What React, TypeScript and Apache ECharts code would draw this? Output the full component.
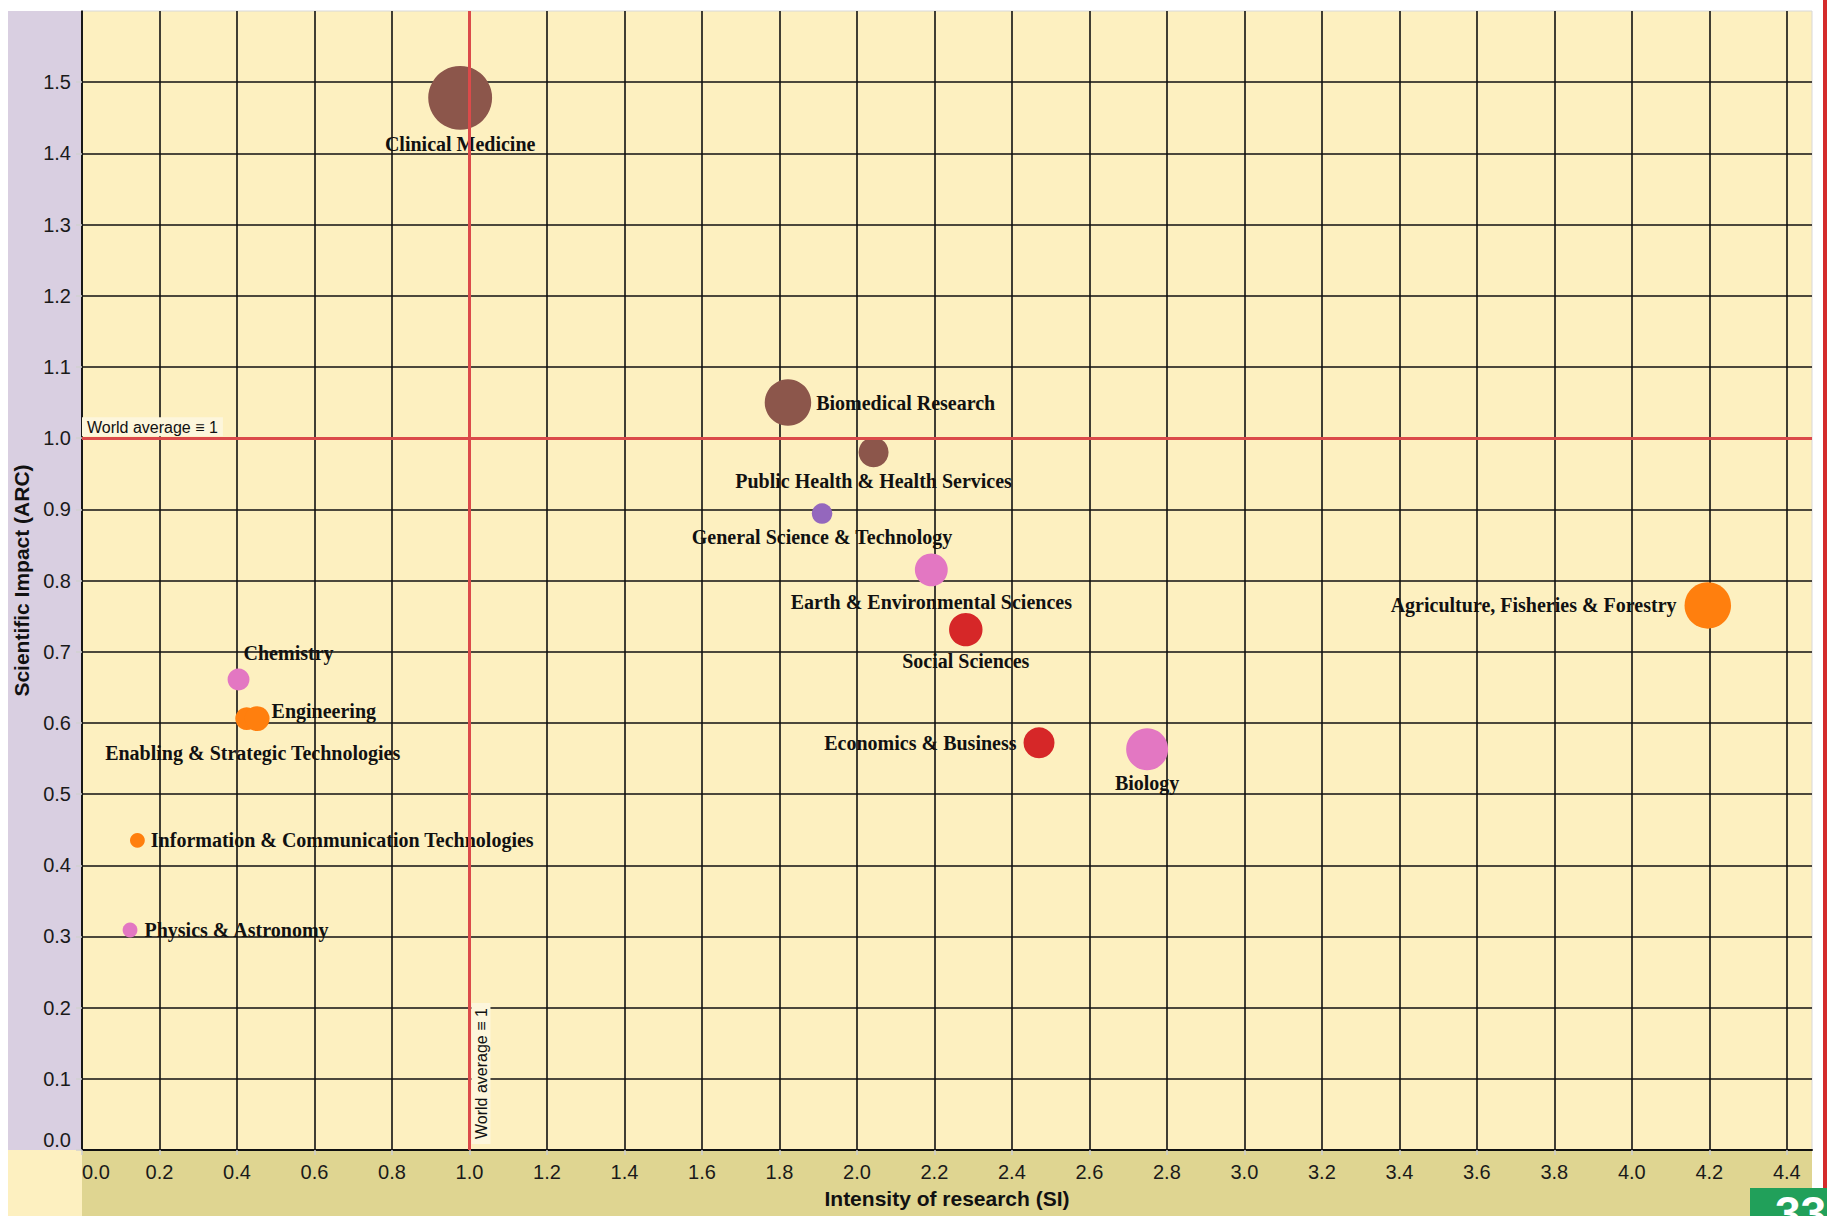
import React, { useEffect, useRef } from "react";
import * as echarts from "echarts";

// ---------- data ----------
const categories = [
  "Clinical Medicine",
  "Biomedical Research",
  "Public Health & Health Services",
  "General Science & Technology",
  "Earth & Environmental Sciences",
  "Social Sciences",
  "Economics & Business",
  "Biology",
  "Agriculture, Fisheries & Forestry",
  "Chemistry",
  "Enabling & Strategic Technologies",
  "Engineering",
  "Information & Communication Technologies",
  "Physics & Astronomy",
];
// Intensity of research (SI)
const intensity = [0.976, 1.822, 2.043, 1.91, 2.192, 2.281, 2.47, 2.749, 4.196, 0.404, 0.425, 0.452, 0.143, 0.124];
// Scientific impact (ARC)
const impact = [1.478, 1.05, 0.98, 0.894, 0.815, 0.731, 0.572, 0.563, 0.765, 0.661, 0.606, 0.606, 0.435, 0.309];
// relative output (bubble area)
const output = [1020, 540, 225, 105, 270, 280, 240, 440, 540, 120, 130, 155, 55, 55];
// field group of each category
const groups = [
  "Health Sciences",
  "Health Sciences",
  "Health Sciences",
  "General",
  "Natural Sciences",
  "Economic & Social Sciences",
  "Economic & Social Sciences",
  "Natural Sciences",
  "Applied Sciences",
  "Natural Sciences",
  "Applied Sciences",
  "Applied Sciences",
  "Applied Sciences",
  "Natural Sciences",
];
const worldAverage = 1;
const xTickStep = 0.2;
const yTickStep = 0.1;
const pageNumber = "33";

// ---------- styles ----------
const groupColors: Record<string, string> = {
  "Health Sciences": "#8c564b",
  General: "#9467bd",
  "Natural Sciences": "#e377c2",
  "Economic & Social Sciences": "#d62728",
  "Applied Sciences": "#ff7f0e",
};

const labelPlacement: Record<string, any> = {
  "Clinical Medicine": { position: "bottom", distance: 4 },
  "Biomedical Research": { position: "right", distance: 5 },
  "Public Health & Health Services": { position: "bottom", distance: 4 },
  "General Science & Technology": { position: "bottom", distance: 3 },
  "Earth & Environmental Sciences": { position: "bottom", distance: 6 },
  "Social Sciences": { position: "bottom", distance: 5 },
  "Economics & Business": { position: "left", distance: 7 },
  Biology: { position: "bottom", distance: 3 },
  "Agriculture, Fisheries & Forestry": { position: "left", distance: 8 },
  Chemistry: { position: "top", distance: 5, offset: [50, 0] },
  "Enabling & Strategic Technologies": { position: "bottom", distance: 13, offset: [6, 0] },
  Engineering: { position: "right", distance: 2, offset: [0, -8] },
  "Information & Communication Technologies": { position: "right", distance: 6 },
  "Physics & Astronomy": { position: "right", distance: 7 },
};

const W = 1827;
const H = 1216;
const G = { left: 82, right: 15, top: 11, bottom: 66 };

export default function App() {
  const ref = useRef<HTMLDivElement>(null);

  useEffect(() => {
    if (!ref.current) return;
    const chart = echarts.init(ref.current, null, { renderer: "svg" });

    const data = categories.map((name, i) => {
      const pl = labelPlacement[name] || { position: "right" };
      return {
        name,
        value: [intensity[i], impact[i], output[i]],
        itemStyle: { color: groupColors[groups[i]], opacity: 1 },
        label: {
          show: true,
          formatter: "{b}",
          position: pl.position,
          distance: pl.distance,
          offset: pl.offset || [0, 0],
        },
      };
    });

    const axisFont = "'Liberation Sans', Arial, sans-serif";
    const serif = "'Liberation Serif', 'Times New Roman', serif";

    chart.setOption({
      animation: false,
      backgroundColor: "#ffffff",
      grid: {
        ...G,
        show: true,
        backgroundColor: "#fdf0c0",
        borderColor: "#d8d8d8",
        borderWidth: 1,
      },
      graphic: [
        { type: "rect", z: -10, shape: { x: 8, y: G.top, width: G.left - 8, height: H - G.bottom - G.top }, style: { fill: "#d9cfe1" } },
        { type: "rect", z: -10, shape: { x: 8, y: H - G.bottom, width: G.left - 8, height: G.bottom }, style: { fill: "#fdf0c0" } },
        { type: "rect", z: -10, shape: { x: G.left, y: H - G.bottom, width: W - G.right - G.left, height: G.bottom }, style: { fill: "#dfd591" } },
        { type: "rect", z: 50, shape: { x: 1823, y: 0, width: 4, height: 1188 }, style: { fill: "#d42b2b" } },
        { type: "rect", z: 50, shape: { x: 1750, y: 1188, width: 77, height: 28 }, style: { fill: "#21a05a" } },
        {
          type: "text",
          z: 51,
          x: 1775,
          y: 1190,
          style: { text: pageNumber, fill: "#ffffff", font: "bold 46px 'Liberation Sans', Arial, sans-serif" },
        },
      ],
      xAxis: {
        type: "value",
        min: 0,
        max: 4.465,
        interval: xTickStep,
        name: "Intensity of research (SI)",
        nameLocation: "middle",
        nameGap: 38,
        nameTextStyle: { fontFamily: axisFont, fontWeight: "bold", fontSize: 21, color: "#111" },
        axisLine: { show: true, lineStyle: { color: "#111", width: 2 } },
        axisTick: { show: true, length: 5, lineStyle: { color: "#cfcfcf", width: 1.5 } },
        axisLabel: {
          fontFamily: axisFont,
          fontSize: 20,
          color: "#1a1a1a",
          margin: 12,
          showMaxLabel: false,
          alignMinLabel: "left",
          formatter: (v: number) => v.toFixed(1),
        },
        splitLine: { show: true, showMaxLine: false, lineStyle: { color: "#111", width: 1.6 } },
      },
      yAxis: {
        type: "value",
        min: 0,
        max: 1.6,
        interval: yTickStep,
        name: "Scientific Impact (ARC)",
        nameLocation: "middle",
        nameGap: 46,
        nameTextStyle: { fontFamily: axisFont, fontWeight: "bold", fontSize: 21, color: "#111" },
        axisLine: { show: true, lineStyle: { color: "#111", width: 1.6 } },
        axisTick: { show: true, length: 6, lineStyle: { color: "#d0d0d0", width: 1.5 } },
        axisLabel: {
          fontFamily: axisFont,
          fontSize: 20,
          color: "#1a1a1a",
          margin: 11,
          showMaxLabel: false,
          verticalAlignMinLabel: "bottom",
          formatter: (v: number) => v.toFixed(1),
        },
        splitLine: { show: true, showMaxLine: false, lineStyle: { color: "#111", width: 1.6 } },
      },
      series: [
        {
          type: "scatter",
          data,
          symbol: "circle",
          symbolSize: (v: number[]) => 2 * Math.sqrt(v[2]),
          label: {
            fontFamily: serif,
            fontWeight: "bold",
            fontSize: 20,
            color: "#111",
          },
          emphasis: { disabled: true },
          markLine: {
            silent: true,
            symbol: "none",
            z: 5,
            lineStyle: { color: "#db4a4a", width: 3, type: "solid" },
            label: {
              formatter: "World average \u2261 1",
              fontFamily: axisFont,
              fontSize: 16,
              color: "#111",
              backgroundColor: "#fdf6dc",
              padding: [2, 5, 1, 5],
            },
            data: [
              { yAxis: worldAverage, label: { position: "insideStartTop", distance: [0, 2] } },
              { xAxis: worldAverage, label: { position: "insideStartBottom", distance: [6, 2] } },
            ],
          },
        },
      ],
    });

    return () => chart.dispose();
  }, []);

  return (
    <div
      ref={ref}
      style={{ position: "absolute", left: 0, top: 0, width: W, height: H }}
    />
  );
}
